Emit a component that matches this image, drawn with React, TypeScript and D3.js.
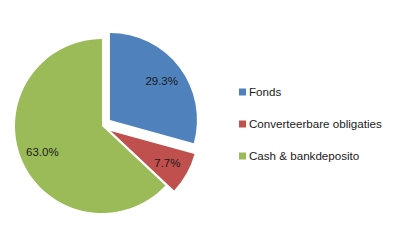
import React from 'react'
import * as d3 from 'd3'

const categories = ['Fonds', 'Converteerbare obligaties', 'Cash & bankdeposito']
const values = [29.3, 7.7, 63.0]
const exploded = [true, true, false]
const colors = ['#4F81BD', '#C0504D', '#9BBB59']

const width = 395
const height = 244
const cx = 102
const cy = 126
const radius = 87
const explodeDist = 10

const App = () => {
  const pie = d3.pie<number>().sort(null).value(d => d)
  const arcs = pie(values)
  const arc = d3.arc<d3.PieArcDatum<number>>().innerRadius(0).outerRadius(radius)
  const labelArc = d3.arc<d3.PieArcDatum<number>>().innerRadius(65).outerRadius(65)

  const legendY = d3.scalePoint<string>().domain(categories).range([92, 156])

  return (
    <svg width={width} height={height} style={{ position: 'absolute', left: 0, top: 0 }}>
      <rect width={width} height={height} fill="#fff" />
      <g transform={'translate(' + cx + ',' + cy + ')'}>
        {arcs.map((a, i) => {
          const mid = (a.startAngle + a.endAngle) / 2
          const d = exploded[i] ? explodeDist : 0
          const dx = Math.sin(mid) * d
          const dy = -Math.cos(mid) * d
          const [lx, ly] = labelArc.centroid(a)
          return (
            <g key={i} transform={'translate(' + dx + ',' + dy + ')'}>
              <path d={arc(a) || ''} fill={colors[i]} />
              <text
                x={lx}
                y={ly}
                textAnchor="middle"
                dy="0.35em"
                fontFamily="Liberation Sans, Arial, sans-serif"
                fontSize={11.5}
                fill="#1a1a1a"
              >
                {values[i].toFixed(1) + '%'}
              </text>
            </g>
          )
        })}
      </g>
      <g>
        {categories.map((c, i) => (
          <g key={c} transform={'translate(239,' + legendY(c) + ')'}>
            <rect x={0} y={-3.5} width={7} height={7} fill={colors[i]} />
            <text
              x={10}
              dy="0.35em"
              fontFamily="Liberation Sans, Arial, sans-serif"
              fontSize={11.6}
              fill="#1a1a1a"
            >
              {c}
            </text>
          </g>
        ))}
      </g>
    </svg>
  )
}

export default App
